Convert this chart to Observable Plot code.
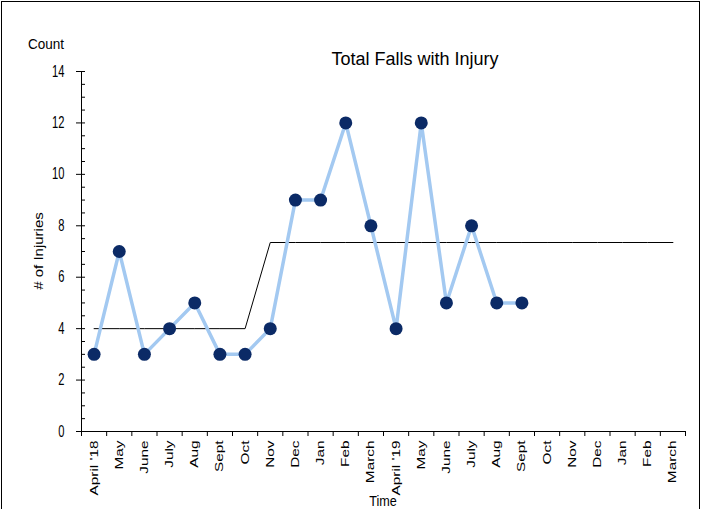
<!DOCTYPE html>
<html>
<head>
<meta charset="utf-8">
<script src="https://cdn.jsdelivr.net/npm/d3@7"></script>
<script src="https://cdn.jsdelivr.net/npm/@observablehq/plot@0.6"></script>
<style>
  html, body { margin: 0; padding: 0; background: #fff; }
  #wrap { position: relative; width: 703px; height: 509px; overflow: hidden; font-family: "Liberation Sans", Arial, sans-serif; color: #000; }
  #border { position: absolute; left: 1px; top: 1px; width: 699px; height: 520px; border: 1px solid #000; box-sizing: border-box; pointer-events: none; }
  .lbl { position: absolute; white-space: nowrap; line-height: 1; }
</style>
</head>
<body>
<div id="wrap">
  <div id="chart"></div>
  <div id="border"></div>
  <div class="lbl" style="left:28px; top:36px; font-size:15px; transform-origin:0 0; transform:scaleX(0.9);">Count</div>
  <div class="lbl" style="left:415px; top:50px; font-size:18px; transform:translateX(-50%);">Total Falls with Injury</div>
  <div class="lbl" style="left:38px; top:251px; font-size:15px; transform:translate(-50%,-50%) rotate(-90deg) scaleY(0.85);"># of Injuries</div>
  <div class="lbl" style="left:383px; top:494px; font-size:14px; transform:translateX(-50%) scaleX(0.9);">Time</div>
</div>
<script>
const months = ["April '18","May","June","July","Aug","Sept","Oct","Nov","Dec","Jan","Feb","March",
                "April '19","May","June","July","Aug","Sept","Oct","Nov","Dec","Jan","Feb","March"];
const injuries = [3,7,3,4,5,3,3,4,9,9,12,8,4,12,5,8,5,5];
const medianLine = [4,4,4,4,4,4,4,7.35,7.35,7.35,7.35,7.35,7.35,7.35,7.35,7.35,7.35,7.35,7.35,7.35,7.35,7.35,7.35,7.35];
const yMajorTicks = [0,2,4,6,8,10,12,14];

const rows = months.map((m, i) => ({i, m, v: i < injuries.length ? injuries[i] : null, med: medianLine[i]}));
const observed = rows.filter(d => d.v != null);

const chart = Plot.plot({
  width: 703,
  height: 509,
  marginLeft: 81,
  marginRight: 18,
  marginTop: 71,
  marginBottom: 78,
  style: {fontFamily: "Liberation Sans, Arial, sans-serif", fontSize: "13px", color: "#000", background: "transparent"},
  x: {type: "linear", domain: [-0.5, months.length - 0.5]},
  y: {domain: [0, 14]},
  marks: [
    Plot.ruleY([0], {stroke: "#000", strokeWidth: 1}),
    Plot.ruleX([-0.5], {y1: 0, y2: 14, stroke: "#000", strokeWidth: 1}),
    Plot.axisY({ticks: yMajorTicks, tickSize: 5, tickPadding: 12, label: null, stroke: "#000", fontSize: 13}),
    Plot.axisY({ticks: d3.range(0, 14.01, 0.5), tickSize: 4, dx: 4, tickFormat: () => "", label: null, stroke: "#000"}),
    Plot.axisX({ticks: d3.range(-0.5, months.length, 1), tickSize: 5, tickFormat: () => "", label: null, stroke: "#000"}),
    Plot.axisX({ticks: d3.range(months.length), tickSize: 0, tickPadding: 9, tickRotate: -90, tickFormat: i => months[i], label: null, fontSize: 12}),
    Plot.line(rows, {x: "i", y: "med", stroke: "#000", strokeWidth: 1}),
    Plot.line(observed, {x: "i", y: "v", stroke: "#a3c9f1", strokeWidth: 3.5}),
    Plot.dot(observed, {x: "i", y: "v", r: 6.5, fill: "#0b2a66", stroke: "none"})
  ]
});
document.getElementById("chart").appendChild(chart);

// stretch tick text to match the reference's condensed/elongated glyphs
function stretch(label, sx, sy) {
  chart.querySelectorAll(`g[aria-label="${label}"] text`).forEach(t => {
    const tr = t.getAttribute("transform") || "";
    t.setAttribute("transform", `${tr} scale(${sx},${sy})`);
  });
}
stretch("y-axis tick label", 0.86, 1.22);
stretch("x-axis tick label", 1.28, 0.92);
</script>
</body>
</html>
